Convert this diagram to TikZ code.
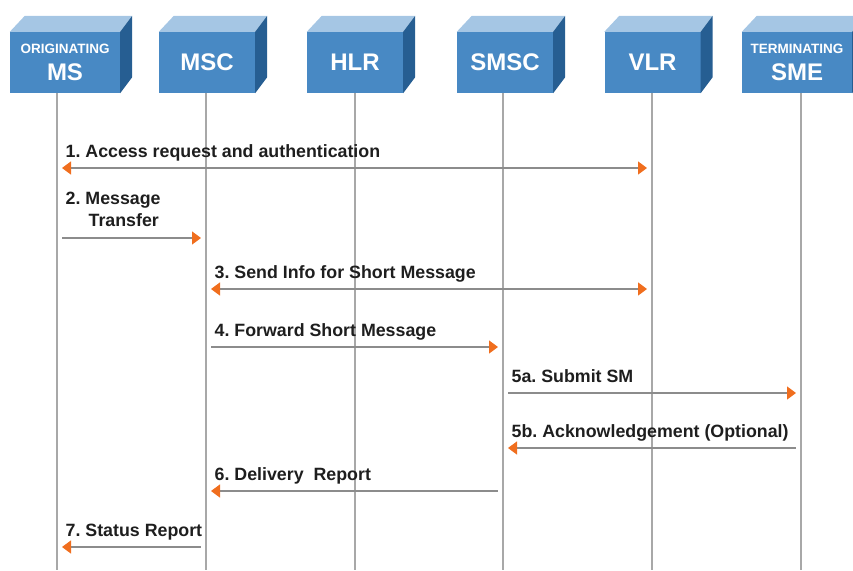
\documentclass[tikz,border=0pt]{standalone}
\usepackage{fontspec}
\setmainfont{Liberation Sans}
\usepackage{xcolor}
\usepackage{tikz}
\usetikzlibrary{arrows.meta}
\frenchspacing

\definecolor{cubefront}{RGB}{72,137,196}
\definecolor{cubetop}{RGB}{165,198,228}
\definecolor{cubeside}{RGB}{38,94,146}
\definecolor{lifegray}{RGB}{168,168,168}
\definecolor{msggray}{RGB}{140,140,140}
\definecolor{arrorange}{RGB}{240,110,30}
\definecolor{textdark}{RGB}{30,30,30}

\begin{document}
\begin{tikzpicture}[x=1pt,y=-1pt,
	cube/.style={rectangle, fill=cubefront, minimum height=61pt, inner sep=0pt, text=white, align=center, font=\bfseries\fontsize{24}{26}\selectfont},
	lifeline/.style={draw=lifegray, line width=1.5pt},
	msg/.style={draw=msggray, line width=1.3pt, shorten <=5pt, shorten >=5pt},
	msglbl/.style={anchor=base west, xshift=8pt, yshift=11pt, inner sep=0pt, text=textdark, font=\bfseries\fontsize{17.8}{22}\selectfont, align=left},
	>={Triangle[length=9pt,width=13pt,color=arrorange]}]
	 \useasboundingbox (0,0) rectangle (853,570);
	 \clip (0,0) rectangle (853,570);
	 % the six entities
	 \node[cube, minimum width=110pt] (ms) at (65,62.5) {{\fontsize{13.5}{15}\selectfont ORIGINATING}\\[1.5pt]MS};
	 \node[cube, minimum width=96pt] (msc) at (207,62.5) {MSC};
	 \node[cube, minimum width=96pt] (hlr) at (355,62.5) {HLR};
	 \node[cube, minimum width=96pt] (smsc) at (505,62.5) {SMSC};
	 \node[cube, minimum width=96pt] (vlr) at (652.5,62.5) {VLR};
	 \node[cube, minimum width=110pt] (sme) at (797,62.5) {{\fontsize{13.5}{15}\selectfont TERMINATING}\\[1.5pt]SME};
	 \foreach \n in {ms,msc,hlr,smsc,vlr,sme}{
	 	\fill[cubetop] (\n.north west) -- ++(15,-16) -- ([shift={(12,-16)}]\n.north east) -- (\n.north east) -- cycle;
	 	\fill[cubeside] (\n.north east) -- ++(12,-16) -- ([shift={(12,-16)}]\n.south east) -- (\n.south east) -- cycle;
	 }
	 % lifelines
	 \foreach \n/\x in {ms/57,msc/206,hlr/355,smsc/503,vlr/652,sme/801}{
	 	\coordinate (\n-top) at (\x,93);
	 	\coordinate (\n-bot) at (\x,570);
	 	\draw[lifeline] (\n-top) -- (\n-bot);
	 }
	 % message levels
	 \coordinate (m1) at (0,168);
	 \coordinate (m2) at (0,238);
	 \coordinate (m3) at (0,289);
	 \coordinate (m4) at (0,347);
	 \coordinate (m5a) at (0,393);
	 \coordinate (m5b) at (0,448);
	 \coordinate (m6) at (0,491);
	 \coordinate (m7) at (0,547);
	 \draw[msg,<->] (ms-top |- m1) -- (vlr-top |- m1) node[msglbl, pos=0] {1. Access request and authentication};
	 \draw[msg,->] (ms-top |- m2) -- (msc-top |- m2) node[msglbl, pos=0, anchor=south west] {2. Message\\\hspace*{23pt}Transfer};
	 \draw[msg,<->] (msc-top |- m3) -- (vlr-top |- m3) node[msglbl, pos=0] {3. Send Info for Short Message};
	 \draw[msg,->] (msc-top |- m4) -- (smsc-top |- m4) node[msglbl, pos=0] {4. Forward Short Message};
	 \draw[msg,->] (smsc-top |- m5a) -- (sme-top |- m5a) node[msglbl, pos=0] {5a. Submit SM};
	 \draw[msg,<-] (smsc-top |- m5b) -- (sme-top |- m5b) node[msglbl, pos=0] {5b. Acknowledgement (Optional)};
	 \draw[msg,<-] (msc-top |- m6) -- (smsc-top |- m6) node[msglbl, pos=0] {6. Delivery\ \ Report};
	 \draw[msg,<-] (ms-top |- m7) -- (msc-top |- m7) node[msglbl, pos=0] {7. Status Report};
\end{tikzpicture}
\end{document}
